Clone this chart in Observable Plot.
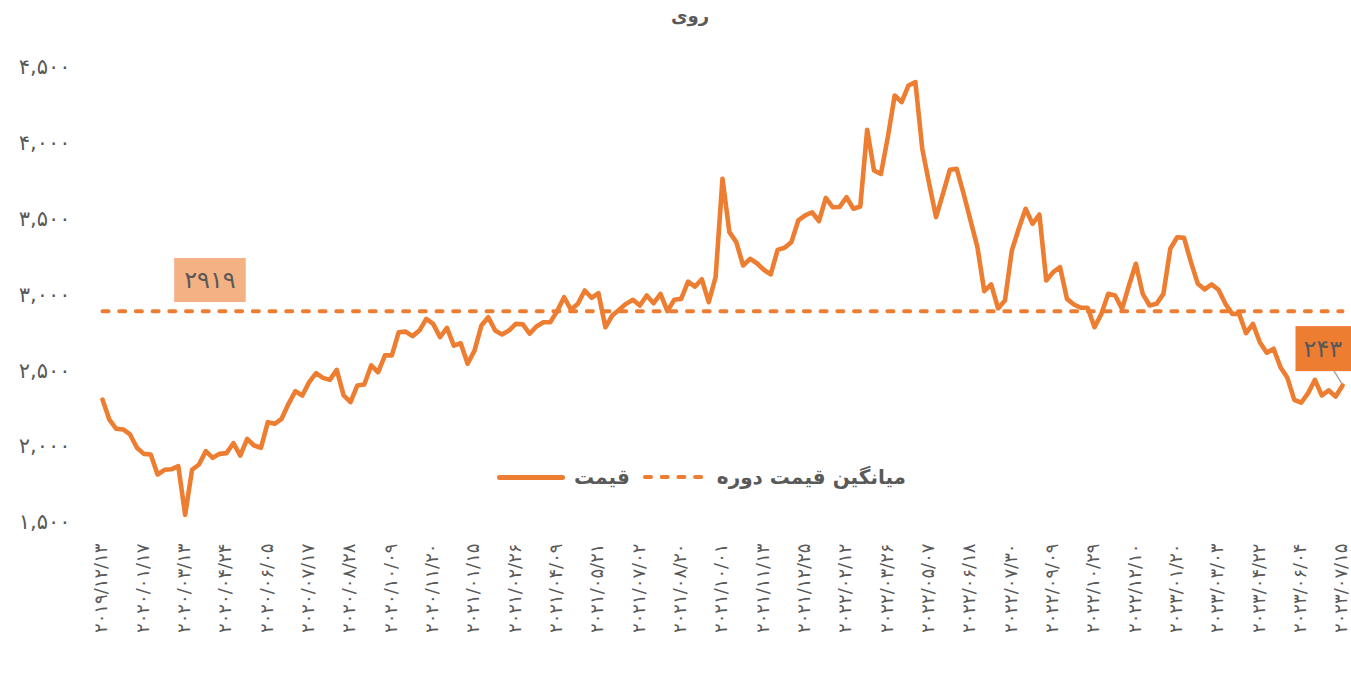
<!DOCTYPE html>
<html><head><meta charset="utf-8">
<script src="https://cdn.jsdelivr.net/npm/d3@7"></script>
<script src="https://cdn.jsdelivr.net/npm/@observablehq/plot@0.6"></script>
<style>
html,body{margin:0;padding:0;overflow:hidden;background:#fff;}
#wrap{position:relative;width:1351px;height:674px;font-family:"DejaVu Sans",sans-serif;color:#595959;}
#title{position:absolute;top:5px;left:590px;width:200px;text-align:center;font-weight:bold;font-size:18px;}
#legend{position:absolute;left:497px;top:462px;height:30px;display:flex;align-items:center;font-weight:bold;font-size:20px;}
#legend .sw{display:inline-block;width:68px;height:5px;background:#ED7D31;border-radius:3px;}
svg{display:block;}
.xax text{letter-spacing:2.6px;}
.yax text{letter-spacing:2.5px;}
</style></head><body>
<div id="wrap">
<div id="chart"></div>
<div id="title">روی</div>
<div id="legend">
  <span class="sw"></span>
  <span dir="rtl" style="margin-left:9px">قیمت</span>
  <svg width="72" height="8" style="margin-left:12px"><line x1="3" y1="4" x2="69" y2="4" stroke="#ED7D31" stroke-width="4" stroke-dasharray="6,10.7" stroke-linecap="round"/></svg>
  <span dir="rtl" style="margin-left:3px">میانگین قیمت دوره</span>
</div>
</div>
<script>
// tick labels (every 6th week)
const tickLabels = [
 "۲۰۱۹/۱۲/۱۳","۲۰۲۰/۰۱/۱۷","۲۰۲۰/۰۳/۱۳","۲۰۲۰/۰۴/۲۴","۲۰۲۰/۰۶/۰۵","۲۰۲۰/۰۷/۱۷",
 "۲۰۲۰/۰۸/۲۸","۲۰۲۰/۱۰/۰۹","۲۰۲۰/۱۱/۲۰","۲۰۲۱/۰۱/۱۵","۲۰۲۱/۰۲/۲۶","۲۰۲۱/۰۴/۰۹",
 "۲۰۲۱/۰۵/۲۱","۲۰۲۱/۰۷/۰۲","۲۰۲۱/۰۸/۲۰","۲۰۲۱/۱۰/۰۱","۲۰۲۱/۱۱/۱۳","۲۰۲۱/۱۲/۲۵",
 "۲۰۲۲/۰۲/۱۲","۲۰۲۲/۰۳/۲۶","۲۰۲۲/۰۵/۰۷","۲۰۲۲/۰۶/۱۸","۲۰۲۲/۰۷/۳۰","۲۰۲۲/۰۹/۰۹",
 "۲۰۲۲/۱۰/۲۹","۲۰۲۲/۱۲/۱۰","۲۰۲۳/۰۱/۲۰","۲۰۲۳/۰۳/۰۳","۲۰۲۳/۰۴/۲۲","۲۰۲۳/۰۶/۰۴","۲۰۲۳/۰۷/۱۵"
];
const tickStep = 6;
// weekly price
const prices = [
 2337,2204,2144,2140,2107,2019,1979,1975,1843,1874,1877,1898,1577,1874,1909,1997,1953,1979,1984,2049,
 1968,2078,2034,2019,2188,2177,2210,2309,2392,2364,2452,2511,2480,2467,2533,2364,2320,2430,2436,2562,
 2517,2628,2628,2781,2785,2755,2792,2869,2836,2748,2810,2693,2708,2573,2660,2825,2880,2792,2766,2792,
 2836,2834,2771,2819,2847,2847,2920,3012,2929,2968,3056,3008,3038,2814,2891,2929,2968,2995,2957,3023,
 2972,3034,2920,2995,3001,3115,3082,3130,2979,3144,3793,3441,3375,3221,3265,3236,3193,3162,3324,3338,
 3375,3518,3551,3572,3513,3667,3605,3607,3671,3595,3610,4116,3847,3825,4067,4342,4298,4408,4430,3990,
 3760,3540,3694,3852,3858,3694,3518,3342,3052,3096,2938,2990,3320,3463,3595,3496,3557,3122,3177,3210,
 3001,2964,2942,2942,2814,2902,3034,3023,2935,3089,3232,3034,2957,2968,3034,3331,3407,3403,3243,3100,
 3063,3096,3061,2968,2902,2902,2775,2836,2715,2645,2672,2550,2480,2335,2316,2379,2467,2364,2397,2357,2430
];
const meanPrice = 2919;
const meanLabel = "۲۹۱۹";
const meanLabelAt = 15.6;
const lastLabel = "۲۴۳";
const yTicks = [1500,2000,2500,3000,3500,4000,4500];

const fa = s => String(s).replace(/\d/g, d => "۰۱۲۳۴۵۶۷۸۹"[d]);
const data = prices.map((v,i)=>({i, v}));
const last = data[data.length-1];
const n = prices.length - 1;

const plot = Plot.plot({
  width:1351, height:674,
  marginTop:71, marginBottom:148, marginLeft:102, marginRight:9,
  style:{fontFamily:"DejaVu Sans, sans-serif", background:"white", color:"#595959", overflow:"visible"},
  x:{domain:[0,n], axis:null},
  y:{domain:[1500,4500], axis:null},
  marks:[
    Plot.axisY({ticks:yTicks, tickSize:0, tickPadding:32, tickFormat:d=>fa(d3.format(",")(d)), fontSize:21, dy:-4, label:null, className:"yax"}),
    Plot.axisX({ticks:d3.range(0,n+1,tickStep), tickSize:0, tickPadding:17, tickRotate:-90, tickFormat:i=>tickLabels[i/tickStep], fontSize:18, dx:-1, label:null, className:"xax"}),
    Plot.line(data, {x:"i", y:()=>meanPrice, stroke:"#ED7D31", strokeWidth:4, strokeDasharray:"6,10.7", strokeLinecap:"round"}),
    Plot.line(data, {x:"i", y:"v", stroke:"#ED7D31", strokeWidth:4.6, strokeLinejoin:"round", strokeLinecap:"round"}),
    Plot.text([meanPrice], {x:()=>meanLabelAt, y:d=>d, text:()=>meanLabel, dy:-31, fontSize:24, fill:"#595959", className:"meanlab"}),
    Plot.text([last], {x:"i", y:"v", text:()=>lastLabel, dx:-39, dy:-36.5, textAnchor:"start", fontSize:24, fill:"#595959", className:"lastlab"})
  ]
});
document.getElementById("chart").appendChild(plot);

function boxify(cls, fill, padL, padR, h){
  plot.querySelectorAll("g."+cls+" text").forEach(t=>{
    const b = t.getBBox();
    const r = document.createElementNS("http://www.w3.org/2000/svg","rect");
    const cy = b.y + b.height/2;
    r.setAttribute("x", b.x - padL);
    r.setAttribute("y", cy - h/2);
    r.setAttribute("width", b.width + padL + padR);
    r.setAttribute("height", h);
    r.setAttribute("fill", fill);
    t.parentNode.insertBefore(r, t);
    if (t.getAttribute("transform")) r.setAttribute("transform", t.getAttribute("transform"));
  });
}
boxify("meanlab", "#F4B183", 10, 10, 44);
boxify("lastlab", "#ED7D31", 8, 30, 45);

// leader line from last label box to last point
const sx = plot.scale("x"), sy = plot.scale("y");
const px = sx.apply(last.i), py = sy.apply(last.v);
const ln = document.createElementNS("http://www.w3.org/2000/svg","line");
ln.setAttribute("x1", px-8); ln.setAttribute("y1", py-14);
ln.setAttribute("x2", px); ln.setAttribute("y2", py-1);
ln.setAttribute("stroke", "#A6A6A6"); ln.setAttribute("stroke-width", 1.5);
plot.appendChild(ln);
</script>
</body></html>
